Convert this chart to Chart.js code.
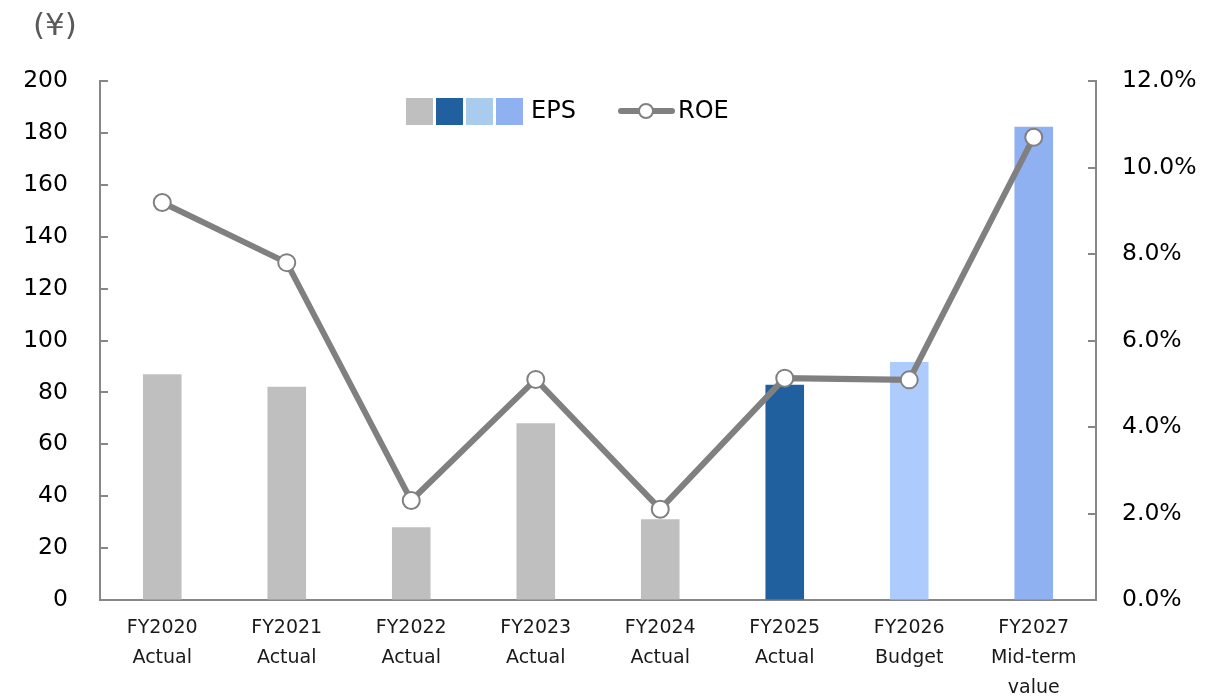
<!DOCTYPE html>
<html>
<head>
<meta charset="utf-8">
<script src="https://cdn.jsdelivr.net/npm/chart.js@4/dist/chart.umd.min.js"></script>
<style>
  html, body { margin: 0; padding: 0; background: #fff; }
  #wrap { width: 1219px; height: 696px; }
</style>
</head>
<body>
<div id="wrap"><canvas id="c" width="1219" height="696"></canvas></div>
<script>
// Fiscal years and their status rows
const categories = [
  ['FY2020', 'Actual'], ['FY2021', 'Actual'], ['FY2022', 'Actual'], ['FY2023', 'Actual'],
  ['FY2024', 'Actual'], ['FY2025', 'Actual'], ['FY2026', 'Budget'], ['FY2027', 'Mid-term', 'value']
];
// Earnings per share (yen)
const epsValues = [87.0, 82.2, 28.0, 68.1, 31.1, 82.9, 91.7, 182.4];
// Return on equity (%)
const roeValues = [9.19, 7.80, 2.30, 5.10, 2.10, 5.13, 5.09, 10.70];
// Bar fills per year
const barColors = ['#BFBFBF', '#BFBFBF', '#BFBFBF', '#BFBFBF', '#BFBFBF', '#21609E', '#AECBFD', '#8FB0F1'];
// Legend swatches for EPS
const epsSwatches = ['#BFBFBF', '#21609E', '#A9CBED', '#8FB0F1'];
// Axis ranges
const epsAxis = { min: 0, max: 200, step: 20 };
const roeAxis = { min: 0, max: 12, step: 2 };

const FONT = '"DejaVu Sans", Verdana, sans-serif';
const AXIS_GRAY = '#878787';
const LINE_GRAY = '#808080';

const overlay = {
  id: 'overlay',
  afterDraw(chart) {
    const ctx = chart.ctx;
    const y = chart.scales.y, y1 = chart.scales.y1;
    ctx.save();
    // inward tick marks on both value axes
    ctx.strokeStyle = AXIS_GRAY;
    ctx.lineWidth = 2;
    y.ticks.forEach(t => {
      const py = Math.round(y.getPixelForValue(t.value));
      ctx.beginPath(); ctx.moveTo(y.right, py); ctx.lineTo(y.right + 8, py); ctx.stroke();
    });
    y1.ticks.forEach(t => {
      const py = Math.round(y1.getPixelForValue(t.value));
      ctx.beginPath(); ctx.moveTo(y1.left, py); ctx.lineTo(y1.left - 8, py); ctx.stroke();
    });
    // unit label
    ctx.fillStyle = '#595959';
    ctx.font = '31px ' + FONT;
    ctx.textAlign = 'left';
    ctx.textBaseline = 'middle';
    ctx.fillText('(¥)', 33, 27);

    // legend: EPS swatches
    const ly = 111;
    let lx = 406;
    epsSwatches.forEach(c => {
      ctx.fillStyle = c;
      ctx.fillRect(lx, ly - 13, 27, 27);
      lx += 30;
    });
    ctx.fillStyle = '#000';
    ctx.font = '24px ' + FONT;
    ctx.fillText('EPS', 531, ly + 1);
    // legend: ROE line sample
    ctx.strokeStyle = LINE_GRAY;
    ctx.lineWidth = 6;
    ctx.lineCap = 'round';
    ctx.beginPath(); ctx.moveTo(621, ly); ctx.lineTo(672, ly); ctx.stroke();
    ctx.lineWidth = 2;
    ctx.fillStyle = '#fff';
    ctx.beginPath(); ctx.arc(646, ly, 7, 0, Math.PI * 2); ctx.fill(); ctx.stroke();
    ctx.fillStyle = '#000';
    ctx.fillText('ROE', 678, ly + 1);
    ctx.restore();
  }
};

new Chart(document.getElementById('c'), {
  data: {
    labels: categories,
    datasets: [
      {
        type: 'line',
        label: 'ROE',
        data: roeValues,
        yAxisID: 'y1',
        borderColor: LINE_GRAY,
        borderWidth: 6,
        tension: 0,
        pointRadius: 8.5,
        pointHoverRadius: 8.5,
        pointBorderWidth: 2,
        pointBorderColor: LINE_GRAY,
        pointBackgroundColor: '#fff',
        order: 0
      },
      {
        type: 'bar',
        label: 'EPS',
        data: epsValues,
        yAxisID: 'y',
        backgroundColor: barColors,
        barPercentage: 0.31,
        categoryPercentage: 1,
        order: 1
      }
    ]
  },
  options: {
    responsive: false,
    animation: false,
    layout: { padding: { top: 81, left: 0, right: 0, bottom: 0 } },
    plugins: { legend: { display: false }, tooltip: { enabled: false } },
    scales: {
      x: {
        grid: { display: true, drawOnChartArea: false, drawTicks: false },
        border: { display: true, color: AXIS_GRAY, width: 2 },
        ticks: {
          color: '#1a1a1a', padding: 13, maxRotation: 0, autoSkip: false,
          font: { family: FONT, size: 19, lineHeight: 1.58 }
        },
        afterFit(s) { s.height = 96; }
      },
      y: {
        position: 'left',
        min: epsAxis.min, max: epsAxis.max,
        grid: { display: true, drawOnChartArea: false, drawTicks: false },
        border: { display: true, color: AXIS_GRAY, width: 2 },
        ticks: {
          stepSize: epsAxis.step, color: '#000', padding: 32,
          font: { family: FONT, size: 23.5 }
        },
        afterFit(s) { s.width = 100; }
      },
      y1: {
        position: 'right',
        min: roeAxis.min, max: roeAxis.max,
        grid: { display: true, drawOnChartArea: false, drawTicks: false },
        border: { display: true, color: AXIS_GRAY, width: 2 },
        ticks: {
          stepSize: roeAxis.step, color: '#000', padding: 26,
          font: { family: FONT, size: 23.5 },
          callback: v => v.toFixed(1) + '%'
        },
        afterFit(s) { s.width = 123; }
      }
    }
  },
  plugins: [overlay]
});
</script>
</body>
</html>
